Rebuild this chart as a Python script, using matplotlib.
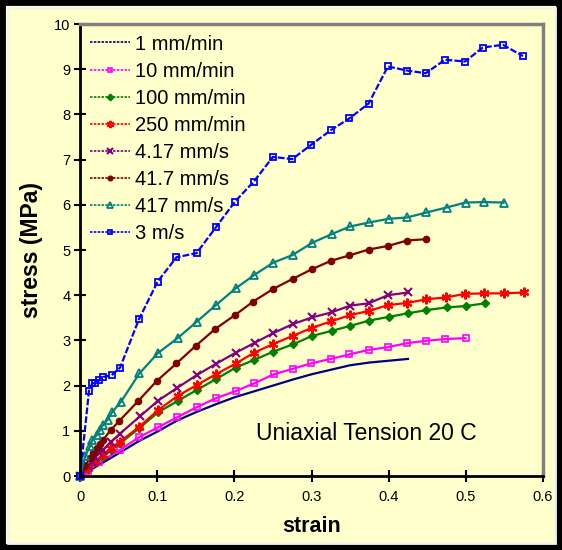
import matplotlib
matplotlib.use("Agg")
import matplotlib.pyplot as plt
from matplotlib.lines import Line2D
from matplotlib.patches import Rectangle

plt.rcParams['font.family'] = ['Liberation Sans', 'DejaVu Sans']

# ---- data ----
labels = ["1 mm/min", "10 mm/min", "100 mm/min", "250 mm/min",
          "4.17 mm/s", "41.7 mm/s", "417 mm/s", "3 m/s"]

x_1mm = [0, 0.025, 0.05, 0.075, 0.1, 0.125, 0.15, 0.175, 0.2, 0.225, 0.25,
         0.275, 0.3, 0.325, 0.35, 0.375, 0.4, 0.425]
y_1mm = [0, 0.25, 0.50, 0.76, 0.98, 1.22, 1.41, 1.58, 1.74, 1.87, 2.00,
         2.13, 2.25, 2.35, 2.45, 2.51, 2.55, 2.59]

x_10mm = [0, 0.01, 0.025, 0.052, 0.0768, 0.1014, 0.126, 0.151, 0.176, 0.202,
          0.2258, 0.251, 0.2755, 0.299, 0.325, 0.349, 0.374, 0.399, 0.424,
          0.448, 0.473, 0.4996]
y_10mm = [0, 0.12, 0.30, 0.58, 0.86, 1.08, 1.30, 1.52, 1.72, 1.88,
          2.05, 2.25, 2.37, 2.49, 2.59, 2.69, 2.79, 2.85, 2.94,
          2.99, 3.03, 3.05]

x_100mm = [0, 0.01, 0.02, 0.03, 0.04, 0.052, 0.0768, 0.1014, 0.1265, 0.151,
           0.176, 0.202, 0.2258, 0.2504, 0.2755, 0.301, 0.326, 0.35, 0.375,
           0.40, 0.425, 0.449, 0.475, 0.50, 0.5246]
y_100mm = [0, 0.15, 0.30, 0.43, 0.57, 0.72, 1.06, 1.41, 1.66, 1.90,
           2.14, 2.40, 2.57, 2.75, 2.91, 3.10, 3.21, 3.32, 3.44,
           3.52, 3.60, 3.67, 3.73, 3.76, 3.82]

x_250mm = [0, 0.01, 0.02, 0.03, 0.04, 0.052, 0.0768, 0.1014, 0.1265, 0.151,
           0.176, 0.202, 0.2258, 0.2504, 0.2755, 0.301, 0.325, 0.35, 0.374,
           0.399, 0.424, 0.449, 0.474, 0.499, 0.524, 0.549, 0.5755]
y_250mm = [0, 0.18, 0.34, 0.47, 0.62, 0.76, 1.09, 1.46, 1.77, 2.01,
           2.25, 2.49, 2.73, 2.92, 3.10, 3.28, 3.42, 3.56, 3.65,
           3.78, 3.83, 3.91, 3.95, 4.03, 4.04, 4.04, 4.06]

x_417mms = [0, 0.01, 0.015, 0.02, 0.025, 0.03, 0.04, 0.052, 0.0777, 0.1014,
            0.126, 0.151, 0.176, 0.202, 0.2267, 0.2504, 0.2755, 0.301, 0.326,
            0.35, 0.374, 0.399, 0.425]
y_417mms = [0, 0.22, 0.32, 0.42, 0.50, 0.58, 0.75, 0.94, 1.32, 1.67,
            1.95, 2.23, 2.48, 2.73, 2.95, 3.16, 3.36, 3.51, 3.62,
            3.77, 3.82, 4.00, 4.06]

x_417 = [0, 0.006, 0.013, 0.017, 0.0216, 0.026, 0.030, 0.040, 0.051, 0.0755,
         0.0993, 0.125, 0.150, 0.175, 0.2008, 0.2245, 0.2504, 0.2755, 0.30,
         0.325, 0.349, 0.374, 0.399, 0.424, 0.449]
y_417 = [0, 0.22, 0.39, 0.50, 0.61, 0.71, 0.80, 1.02, 1.22, 1.66,
         2.10, 2.49, 2.88, 3.25, 3.56, 3.86, 4.14, 4.36, 4.57,
         4.76, 4.88, 5.01, 5.09, 5.21, 5.24]

x_417s = [0, 0.007, 0.013, 0.016, 0.022, 0.026, 0.030, 0.036, 0.042, 0.053,
          0.077, 0.101, 0.1265, 0.151, 0.176, 0.2017, 0.226, 0.2504, 0.2755,
          0.301, 0.326, 0.35, 0.375, 0.40, 0.424, 0.449, 0.475, 0.4996, 0.524,
          0.549]
y_417s = [0, 0.45, 0.66, 0.80, 0.91, 1.02, 1.13, 1.25, 1.42, 1.64,
          2.27, 2.72, 3.05, 3.41, 3.78, 4.15, 4.45, 4.72, 4.89,
          5.16, 5.35, 5.52, 5.61, 5.69, 5.72, 5.83, 5.94, 6.05, 6.06,
          6.05]

x_3ms = [0, 0.0117, 0.016, 0.020, 0.025, 0.030, 0.041, 0.052, 0.0764, 0.1006,
         0.125, 0.151, 0.176, 0.2008, 0.225, 0.25, 0.275, 0.299, 0.325, 0.349,
         0.374, 0.399, 0.424, 0.448, 0.473, 0.499, 0.522, 0.548, 0.574]
y_3ms = [0, 1.89, 2.05, 2.06, 2.12, 2.19, 2.23, 2.40, 3.47, 4.30,
         4.84, 4.93, 5.50, 6.07, 6.51, 7.06, 7.01, 7.32, 7.65, 7.91,
         8.24, 9.06, 8.97, 8.91, 9.21, 9.17, 9.48, 9.54, 9.29]

xticks = [0, 0.1, 0.2, 0.3, 0.4, 0.5, 0.6]
xticklabels = ["0", "0.1", "0.2", "0.3", "0.4", "0.5", "0.6"]
yticks = list(range(0, 11))

series = [
    (x_1mm, y_1mm, dict(color="#000080", marker=None, ls="-")),
    (x_10mm, y_10mm, dict(color="#FF00FF", marker="s", ls="-", mfc="none", ms=4.5, mew=1.2)),
    (x_100mm, y_100mm, dict(color="#008000", marker="D", ls="-", ms=4.5)),
    (x_250mm, y_250mm, dict(color="#FF0000", marker=(6, 2, 0), ls="-", ms=7, mew=1.5)),
    (x_417mms, y_417mms, dict(color="#800080", marker="x", ls="-", ms=5.5, mew=1.5)),
    (x_417, y_417, dict(color="#800000", marker="o", ls="-", ms=4.5)),
    (x_417s, y_417s, dict(color="#008080", marker="^", ls="-", mfc="none", ms=5.5, mew=1.3)),
    (x_3ms, y_3ms, dict(color="#0000FF", marker="s", ls=(0, (3, 1)), mfc="none", ms=4.5, mew=1.3)),
]

bg = "#FFFFCC"
fig = plt.figure(figsize=(5.62, 5.50), dpi=100, facecolor=bg)
# outer frame: black border with a thin white inner strip
fig.patches.append(Rectangle((0, 0), 1, 1, transform=fig.transFigure,
                             fill=False, edgecolor="black", linewidth=8.5, zorder=10))
fig.patches.append(Rectangle((7.5 / 562, 7.5 / 550), 1 - 15 / 562, 1 - 15 / 550,
                             transform=fig.transFigure, fill=False,
                             edgecolor="#F4F4EC", linewidth=2.0, zorder=10))

ax = fig.add_axes([80 / 562, 1 - 476 / 550, (543 - 80) / 562, (476 - 24) / 550])
ax.set_facecolor(bg)

handles = []
for (xs, ys, st), lab in zip(series, labels):
    kw = dict(color=st["color"], linestyle=st["ls"], linewidth=1.6)
    if st.get("marker") is not None:
        kw.update(marker=st["marker"], markersize=st.get("ms", 4),
                  markerfacecolor=st.get("mfc", st["color"]),
                  markeredgecolor=st["color"], markeredgewidth=st.get("mew", 1.0))
    ax.plot(xs, ys, clip_on=False, **kw)
    hk = dict(kw)
    hk["linestyle"] = (0, (1.5, 0.8))
    hk["linewidth"] = 1.2
    if "markersize" in hk:
        hk["markersize"] = hk["markersize"] * 0.75
    handles.append(Line2D([], [], **hk))

ax.set_xlim(0, 0.6)
ax.set_ylim(0, 10)
ax.set_xticks(xticks)
ax.set_xticklabels(xticklabels)
ax.set_yticks(yticks)
ax.tick_params(direction="inout", length=8, width=1.5, labelsize=10.5, color="black")
ax.tick_params(axis="x", pad=6)
ax.tick_params(axis="y", pad=3)

for side in ("left", "bottom"):
    ax.spines[side].set_color("black")
    ax.spines[side].set_linewidth(2)
for side in ("top", "right"):
    ax.spines[side].set_color("#808080")
    ax.spines[side].set_linewidth(2.5)

ax.set_xlabel("strain", fontsize=15.5, fontweight="bold", labelpad=9)
ax.set_ylabel("stress (MPa)", fontsize=16.5, fontweight="bold", labelpad=8)

leg = ax.legend(handles, labels, loc="upper left", bbox_to_anchor=(0.004, 0.9945),
                frameon=False, fontsize=14.5, handlelength=2.0, handletextpad=0.25,
                labelspacing=0.4, borderaxespad=0.0, borderpad=0.4)

ax.text(0.371, 0.95, "Uniaxial Tension 20 C", fontsize=16.5, ha="center", va="center")

fig.savefig("out.png", dpi=100, facecolor=bg)
